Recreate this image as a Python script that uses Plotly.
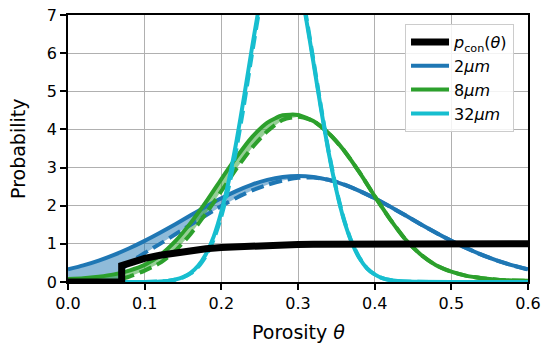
import plotly.graph_objects as go

# ---------------- data ----------------
theta = [0.00, 0.02, 0.04, 0.06, 0.08, 0.10, 0.12, 0.14, 0.16, 0.18, 0.20,
         0.22, 0.24, 0.26, 0.28, 0.30, 0.32, 0.34, 0.36, 0.38, 0.40,
         0.42, 0.44, 0.46, 0.48, 0.50, 0.52, 0.54, 0.56, 0.58, 0.60]

p_2um = [0.330, 0.434, 0.561, 0.711, 0.884, 1.078, 1.291, 1.516, 1.748, 1.977, 2.194,
         2.389, 2.553, 2.677, 2.754, 2.780, 2.754, 2.677, 2.553, 2.389, 2.194,
         1.977, 1.748, 1.516, 1.291, 1.078, 0.884, 0.711, 0.561, 0.434, 0.330]

p_8um = [0.08, 0.10, 0.14, 0.20, 0.30, 0.45, 0.70, 1.07, 1.55, 2.10, 2.70,
         3.28, 3.80, 4.18, 4.37, 4.38, 4.22, 3.90, 3.45, 2.88, 2.25,
         1.65, 1.12, 0.72, 0.44, 0.27, 0.16, 0.10, 0.06, 0.04, 0.03]

# percolation onset and connected-porosity grid
theta_below = [0.00, 0.07]
pcon_below = [0.0, 0.0]
theta_con = [0.07, 0.08, 0.10, 0.12, 0.14, 0.16, 0.18, 0.20,
             0.22, 0.24, 0.26, 0.28, 0.30, 0.32, 0.34, 0.36, 0.38, 0.40,
             0.42, 0.44, 0.46, 0.48, 0.50, 0.52, 0.54, 0.56, 0.58, 0.60]
p_con = [0.43, 0.50, 0.62, 0.70, 0.77, 0.82, 0.87, 0.905,
         0.93, 0.95, 0.965, 0.977, 0.985, 0.991, 0.995, 0.998, 1.0, 1.0,
         1.0, 1.0, 1.0, 1.0, 1.0, 1.0, 1.0, 1.0, 1.0, 1.0]

p_2um_con = [0.33, 0.50, 0.76, 1.00, 1.25, 1.50, 1.75, 1.99,
             2.21, 2.40, 2.55, 2.66, 2.73, 2.74, 2.68, 2.56, 2.39, 2.194,
             1.977, 1.748, 1.516, 1.291, 1.078, 0.884, 0.711, 0.561, 0.434, 0.330]

p_8um_con = [0.08, 0.14, 0.30, 0.50, 0.82, 1.26, 1.80, 2.38,
             2.98, 3.52, 3.95, 4.25, 4.33, 4.22, 3.90, 3.45, 2.88, 2.25,
             1.65, 1.12, 0.72, 0.44, 0.27, 0.16, 0.10, 0.06, 0.04, 0.03]

theta_32 = [0.00, 0.10, 0.12, 0.13, 0.14, 0.15, 0.16, 0.17, 0.18, 0.19, 0.20,
            0.21, 0.22, 0.23, 0.24, 0.25, 0.26, 0.27, 0.28, 0.29, 0.30,
            0.31, 0.32, 0.33, 0.34, 0.35, 0.36, 0.37, 0.38, 0.39, 0.40,
            0.41, 0.42, 0.43, 0.44, 0.50, 0.60]
p_32um = [0.0, 0.003, 0.014, 0.030, 0.064, 0.127, 0.241, 0.431, 0.736, 1.19, 1.84,
          2.68, 3.72, 4.90, 6.14, 7.30, 8.24, 8.83, 8.99, 8.70, 7.99,
          6.97, 5.77, 4.54, 3.39, 2.41, 1.62, 1.04, 0.63, 0.36, 0.20,
          0.10, 0.05, 0.024, 0.01, 0.0, 0.0]
p_32um_con = [0.0, 0.002, 0.013, 0.028, 0.060, 0.118, 0.224, 0.401, 0.685, 1.11, 1.72,
              2.52, 3.53, 4.70, 5.98, 7.19, 8.16, 8.80, 9.00, 8.76, 8.07,
              7.04, 5.83, 4.59, 3.42, 2.43, 1.64, 1.05, 0.64, 0.36, 0.20,
              0.10, 0.05, 0.024, 0.01, 0.0, 0.0]

x_ticks = [0.0, 0.1, 0.2, 0.3, 0.4, 0.5, 0.6]
x_tick_labels = ["0.0", "0.1", "0.2", "0.3", "0.4", "0.5", "0.6"]
y_ticks = [0, 1, 2, 3, 4, 5, 6, 7]
y_tick_labels = ["0", "1", "2", "3", "4", "5", "6", "7"]
x_title = "Porosity <i>θ</i>"
y_title = "Probability"

series = [
    ("2<i>μm</i>", "#1f77b4", "rgba(31,119,180,0.5)", theta, p_2um, p_2um_con, True),
    ("8<i>μm</i>", "#2ca02c", "rgba(44,160,44,0.5)", theta, p_8um, p_8um_con, True),
    ("32<i>μm</i>", "#17becf", "rgba(23,190,207,0.5)", theta_32, p_32um, p_32um_con, False),
]

fig = go.Figure()

# filled gaps between the raw and the connected distributions
for name, col, fcol, tx, ys, ycon, on_con_grid in series:
    if on_con_grid:
        lx = theta_below + theta_con
        ly = pcon_below + ycon
    else:
        lx = tx
        ly = ycon
    fig.add_trace(go.Scatter(
        x=list(tx) + lx[::-1], y=list(ys) + ly[::-1],
        mode="lines", fill="toself", fillcolor=fcol,
        line=dict(width=0, color=fcol), hoverinfo="skip", showlegend=False))

rank = 2
for name, col, fcol, tx, ys, ycon, on_con_grid in series:
    fig.add_trace(go.Scatter(
        x=tx, y=ys, mode="lines", name=name, legendgroup=name, legendrank=rank,
        line=dict(color=col, width=4, shape="spline", smoothing=0.6)))
    dx = theta_con if on_con_grid else tx
    fig.add_trace(go.Scatter(
        x=dx, y=ycon, mode="lines", showlegend=False,
        line=dict(color=col, width=4, dash="13px,6px", shape="spline", smoothing=0.6)))
    rank += 1

fig.add_trace(go.Scatter(
    x=theta_below + theta_con, y=pcon_below + p_con, mode="lines",
    name="<i>p</i><sub>con</sub>(<i>θ</i>)", legendgroup="pcon", legendrank=1,
    line=dict(color="black", width=7)))

axis_common = dict(
    showgrid=True, gridcolor="#b0b0b0", gridwidth=1.3,
    showline=True, linecolor="black", linewidth=1.6, mirror=True,
    ticks="outside", ticklen=6, tickwidth=1.6, tickcolor="black",
    zeroline=False, tickfont=dict(size=16, color="black"),
)

fig.update_xaxes(range=[0, 0.6], tickvals=x_ticks, ticktext=x_tick_labels, **axis_common)
fig.update_yaxes(range=[0, 7], tickvals=y_ticks, ticktext=y_tick_labels, **axis_common)

fig.add_annotation(text=x_title, xref="paper", yref="paper", x=0.5, y=-0.187,
                   xanchor="center", yanchor="middle", showarrow=False,
                   font=dict(size=19, color="black"))
fig.add_annotation(text=y_title, xref="paper", yref="paper", x=-0.1098, y=0.5,
                   xanchor="center", yanchor="middle", showarrow=False, textangle=-90,
                   font=dict(size=19, color="black"))

fig.update_layout(
    width=543, height=346,
    margin=dict(l=68, r=15, t=15, b=64, autoexpand=False),
    plot_bgcolor="white", paper_bgcolor="white",
    font=dict(family="DejaVu Sans", size=16, color="black"),
    legend=dict(x=0.9696, y=0.966, xanchor="right", yanchor="top",
                bgcolor="rgba(255,255,255,0.85)", bordercolor="#cccccc", borderwidth=1,
                font=dict(size=16), tracegroupgap=6, itemwidth=38, traceorder="normal"),
)

fig.write_html("out.html", config={"displayModeBar": False},
               post_script=["document.body.style.margin='0';"])
